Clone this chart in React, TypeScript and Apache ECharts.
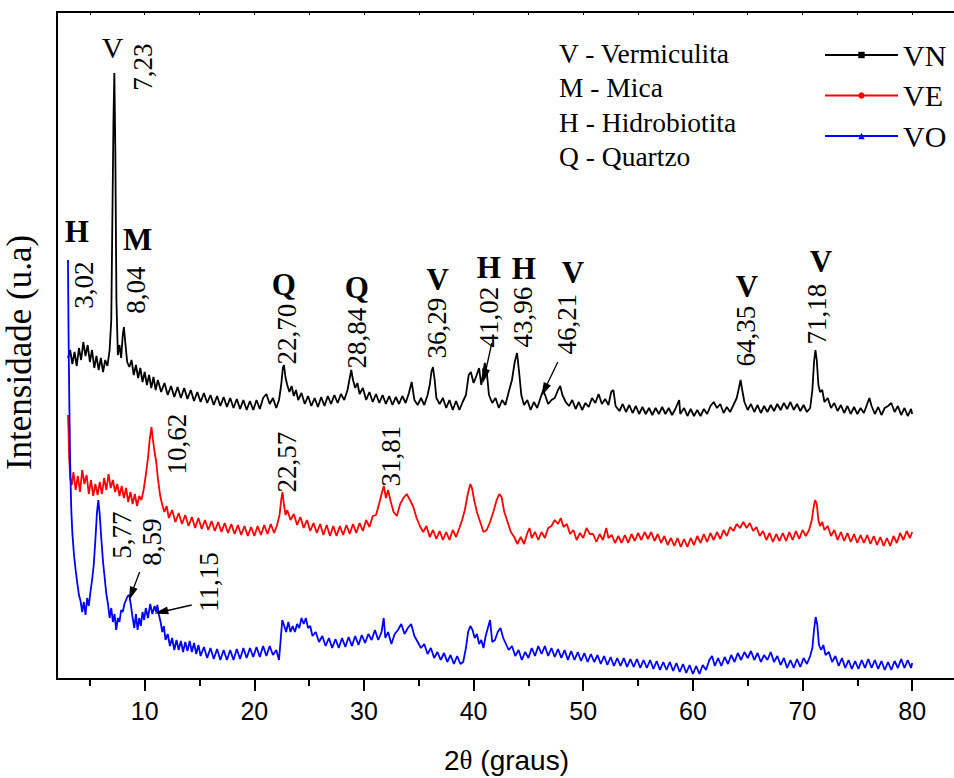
import React, { useEffect, useRef } from "react";
import * as echarts from "echarts";

// 2θ (degrees) , intensity (a.u., offset traces)
const vnData: [number, number][] = [
  [3.0, 321], [3.2, 329], [3.4, 315], [3.6, 327], [3.8, 313], [4.0, 331], [4.2, 319], [4.4, 337], [4.6, 323], [4.8, 334],
  [5.0, 317], [5.2, 329], [5.4, 311], [5.6, 323], [5.8, 309], [6.0, 321], [6.2, 307], [6.4, 319], [6.6, 313], [6.8, 329],
  [6.95, 359], [7.05, 459], [7.15, 559], [7.23, 606], [7.32, 529], [7.42, 379], [7.55, 324], [7.7, 334], [7.85, 321], [8.0, 344],
  [8.1, 352], [8.25, 334], [8.4, 317], [8.6, 312], [8.8, 319], [9.0, 304], [9.2, 314], [9.4, 301], [9.6, 311], [9.8, 297],
  [10.0, 307], [10.2, 294], [10.4, 304], [10.6, 291], [10.8, 302], [11.0, 289], [11.2, 299], [11.5, 287], [11.8, 296], [12.1, 284],
  [12.4, 293], [12.7, 282], [13.0, 292], [13.3, 281], [13.6, 291], [13.9, 280], [14.2, 289], [14.5, 278], [14.8, 287], [15.1, 277],
  [15.4, 286], [15.7, 276], [16.0, 284], [16.3, 274], [16.6, 283], [16.9, 273], [17.2, 282], [17.5, 272], [17.8, 281], [18.1, 271],
  [18.4, 280], [18.7, 270], [19.0, 279], [19.3, 269], [19.6, 278], [19.9, 269], [20.2, 279], [20.5, 270], [20.8, 281], [21.1, 285],
  [21.4, 275], [21.7, 281], [22.0, 271], [22.25, 279], [22.45, 294], [22.6, 311], [22.7, 314], [22.85, 301], [23.0, 294], [23.2, 287],
  [23.4, 293], [23.6, 283], [23.8, 289], [24.0, 279], [24.3, 286], [24.6, 275], [24.9, 283], [25.2, 273], [25.5, 281], [25.8, 272],
  [26.1, 282], [26.4, 273], [26.7, 283], [27.0, 275], [27.3, 284], [27.6, 276], [27.9, 285], [28.2, 279], [28.5, 289], [28.7, 301],
  [28.84, 309], [29.0, 299], [29.2, 291], [29.4, 296], [29.6, 285], [29.9, 291], [30.2, 279], [30.5, 287], [30.8, 277], [31.1, 285],
  [31.4, 276], [31.7, 284], [32.0, 275], [32.3, 283], [32.6, 274], [32.9, 282], [33.2, 275], [33.5, 283], [33.8, 276], [34.1, 286],
  [34.35, 297], [34.6, 279], [34.9, 274], [35.2, 281], [35.5, 274], [35.8, 284], [36.0, 294], [36.15, 307], [36.29, 312], [36.45, 299],
  [36.6, 281], [36.9, 275], [37.2, 281], [37.5, 271], [37.8, 279], [38.1, 269], [38.4, 278], [38.7, 269], [39.0, 277], [39.3, 284],
  [39.55, 304], [39.75, 307], [40.0, 296], [40.25, 303], [40.5, 311], [40.7, 294], [40.85, 304], [41.02, 316], [41.2, 307], [41.4, 284],
  [41.7, 276], [42.0, 281], [42.3, 271], [42.6, 279], [42.9, 274], [43.2, 287], [43.5, 299], [43.75, 317], [43.96, 326], [44.15, 307],
  [44.35, 284], [44.6, 274], [44.9, 279], [45.2, 269], [45.5, 277], [45.8, 271], [46.1, 281], [46.35, 289], [46.55, 283], [46.8, 275],
  [47.1, 279], [47.4, 281], [47.7, 289], [47.9, 293], [48.1, 284], [48.4, 277], [48.7, 273], [49.0, 279], [49.3, 270], [49.6, 277],
  [49.9, 269], [50.2, 276], [50.5, 272], [50.8, 281], [51.1, 276], [51.4, 285], [51.7, 275], [52.0, 280], [52.3, 274], [52.55, 287],
  [52.75, 289], [52.95, 273], [53.3, 268], [53.6, 275], [53.9, 267], [54.2, 274], [54.5, 266], [54.8, 273], [55.1, 265], [55.4, 272],
  [55.7, 265], [56.0, 271], [56.3, 264], [56.6, 271], [56.9, 265], [57.2, 272], [57.5, 265], [57.8, 271], [58.1, 264], [58.4, 270],
  [58.75, 279], [58.85, 265], [59.2, 271], [59.5, 263], [59.8, 270], [60.1, 263], [60.4, 269], [60.7, 263], [61.0, 270], [61.3, 265],
  [61.6, 273], [61.9, 277], [62.2, 271], [62.5, 275], [62.8, 266], [63.1, 272], [63.4, 267], [63.7, 274], [64.0, 281], [64.2, 291],
  [64.35, 299], [64.5, 289], [64.7, 277], [65.0, 269], [65.3, 275], [65.6, 267], [65.9, 274], [66.2, 266], [66.5, 273], [66.8, 267],
  [67.1, 274], [67.4, 268], [67.7, 275], [68.0, 269], [68.3, 276], [68.6, 270], [68.9, 277], [69.2, 269], [69.5, 275], [69.8, 268],
  [70.1, 274], [70.4, 267], [70.7, 271], [70.9, 289], [71.05, 317], [71.18, 329], [71.3, 319], [71.45, 294], [71.6, 287], [71.8, 289],
  [72.0, 277], [72.3, 281], [72.6, 271], [72.9, 276], [73.2, 268], [73.5, 274], [73.8, 266], [74.1, 273], [74.4, 265], [74.7, 272],
  [75.0, 265], [75.3, 271], [75.6, 266], [75.9, 275], [76.1, 281], [76.3, 273], [76.6, 265], [76.9, 272], [77.2, 264], [77.5, 271],
  [77.8, 273], [78.1, 276], [78.4, 267], [78.7, 273], [79.0, 264], [79.3, 271], [79.6, 263], [79.9, 270], [80.0, 265],
];

const veData: [number, number][] = [
  [3.0, 264], [3.05, 249], [3.1, 224], [3.2, 201], [3.35, 194], [3.5, 207], [3.7, 189], [3.9, 203], [4.1, 187], [4.3, 209],
  [4.5, 195], [4.7, 204], [4.9, 185], [5.1, 199], [5.3, 183], [5.5, 195], [5.7, 184], [5.9, 197], [6.1, 185], [6.3, 201],
  [6.5, 189], [6.7, 205], [6.9, 191], [7.1, 199], [7.3, 187], [7.5, 195], [7.7, 183], [7.9, 193], [8.1, 181], [8.3, 191],
  [8.5, 177], [8.7, 187], [8.9, 175], [9.1, 185], [9.3, 173], [9.5, 183], [9.7, 179], [9.9, 189], [10.1, 204], [10.3, 221],
  [10.45, 239], [10.62, 252], [10.75, 239], [10.9, 227], [11.05, 217], [11.2, 201], [11.4, 184], [11.6, 174], [11.8, 167], [12.0, 173],
  [12.2, 161], [12.5, 169], [12.8, 157], [13.1, 166], [13.4, 155], [13.7, 164], [14.0, 153], [14.3, 162], [14.6, 151], [14.9, 161],
  [15.2, 150], [15.5, 159], [15.8, 149], [16.1, 158], [16.4, 148], [16.7, 157], [17.0, 147], [17.3, 156], [17.6, 146], [17.9, 155],
  [18.2, 145], [18.5, 154], [18.8, 144], [19.1, 153], [19.4, 143], [19.7, 152], [20.0, 143], [20.3, 153], [20.6, 144], [20.9, 154],
  [21.2, 145], [21.5, 155], [21.8, 146], [22.05, 153], [22.3, 164], [22.45, 179], [22.57, 187], [22.7, 174], [22.85, 164], [23.0, 169],
  [23.3, 159], [23.6, 165], [23.9, 154], [24.2, 162], [24.5, 151], [24.8, 159], [25.1, 148], [25.4, 156], [25.7, 146], [26.0, 155],
  [26.3, 144], [26.6, 154], [26.9, 143], [27.2, 153], [27.5, 143], [27.8, 153], [28.1, 144], [28.4, 154], [28.7, 145], [29.0, 155],
  [29.3, 146], [29.6, 156], [29.9, 148], [30.2, 159], [30.5, 152], [30.8, 163], [31.1, 164], [31.4, 176], [31.65, 187], [31.81, 193],
  [32.0, 181], [32.2, 189], [32.45, 177], [32.7, 167], [33.0, 163], [33.3, 175], [33.6, 181], [33.9, 185], [34.2, 179], [34.5, 172],
  [34.8, 161], [35.1, 153], [35.4, 147], [35.7, 153], [36.0, 142], [36.3, 149], [36.6, 140], [36.9, 148], [37.2, 139], [37.5, 147],
  [37.8, 139], [38.1, 149], [38.4, 142], [38.7, 151], [38.95, 159], [39.2, 169], [39.45, 184], [39.7, 195], [39.85, 191], [40.05, 179],
  [40.3, 167], [40.6, 157], [40.9, 147], [41.2, 149], [41.5, 157], [41.8, 167], [42.1, 179], [42.35, 185], [42.55, 182], [42.8, 167],
  [43.1, 157], [43.4, 147], [43.7, 142], [44.0, 135], [44.3, 142], [44.6, 135], [44.9, 146], [45.1, 151], [45.3, 141], [45.6, 147],
  [45.9, 139], [46.2, 147], [46.5, 141], [46.8, 151], [47.1, 153], [47.4, 159], [47.7, 155], [47.95, 161], [48.2, 152], [48.5, 155],
  [48.8, 145], [49.1, 149], [49.4, 139], [49.7, 146], [50.0, 141], [50.3, 151], [50.6, 145], [50.9, 145], [51.2, 137], [51.5, 145],
  [51.8, 139], [52.1, 151], [52.3, 141], [52.6, 144], [52.9, 136], [53.2, 143], [53.5, 136], [53.8, 144], [54.1, 136], [54.4, 145],
  [54.7, 138], [55.0, 146], [55.3, 139], [55.6, 147], [55.9, 140], [56.2, 147], [56.5, 138], [56.8, 145], [57.1, 136], [57.4, 143],
  [57.7, 134], [58.0, 141], [58.3, 133], [58.6, 141], [58.9, 132], [59.2, 140], [59.5, 132], [59.8, 141], [60.1, 134], [60.4, 143],
  [60.7, 136], [61.0, 145], [61.3, 137], [61.6, 146], [61.9, 139], [62.2, 147], [62.5, 140], [62.8, 149], [63.1, 143], [63.4, 152],
  [63.7, 148], [64.0, 155], [64.3, 151], [64.6, 157], [64.9, 151], [65.2, 156], [65.5, 148], [65.8, 152], [66.1, 143], [66.4, 148],
  [66.7, 139], [67.0, 146], [67.3, 137], [67.6, 145], [67.9, 138], [68.2, 146], [68.5, 138], [68.8, 147], [69.1, 139], [69.4, 148],
  [69.7, 140], [70.0, 149], [70.3, 143], [70.6, 149], [70.85, 159], [71.0, 171], [71.15, 179], [71.3, 175], [71.45, 159], [71.6, 153],
  [71.8, 157], [72.0, 149], [72.3, 153], [72.6, 143], [72.9, 149], [73.2, 139], [73.5, 147], [73.8, 138], [74.1, 146], [74.4, 137],
  [74.7, 145], [75.0, 136], [75.3, 144], [75.6, 136], [75.9, 144], [76.2, 135], [76.5, 143], [76.8, 134], [77.1, 142], [77.4, 133],
  [77.7, 141], [78.0, 133], [78.3, 143], [78.6, 136], [78.9, 146], [79.2, 139], [79.5, 148], [79.8, 141], [80.0, 147],
];

const voData: [number, number][] = [
  [3.0, 419], [3.05, 349], [3.12, 279], [3.2, 216], [3.3, 170], [3.4, 146], [3.55, 124], [3.7, 109], [3.85, 96], [4.0, 84],
  [4.15, 78], [4.3, 67], [4.45, 77], [4.6, 64], [4.75, 81], [4.9, 73], [5.05, 87], [5.2, 99], [5.35, 114], [5.5, 139],
  [5.65, 167], [5.77, 179], [5.9, 164], [6.05, 139], [6.2, 117], [6.35, 101], [6.5, 85], [6.65, 75], [6.8, 61], [6.95, 71],
  [7.1, 57], [7.25, 65], [7.4, 49], [7.55, 61], [7.7, 57], [7.85, 69], [8.0, 67], [8.15, 75], [8.3, 79], [8.45, 83],
  [8.59, 84], [8.75, 73], [8.9, 61], [9.05, 51], [9.2, 65], [9.35, 49], [9.5, 61], [9.65, 53], [9.8, 67], [9.95, 59],
  [10.1, 71], [10.3, 61], [10.5, 75], [10.7, 65], [10.9, 73], [11.05, 67], [11.15, 74], [11.3, 64], [11.45, 57], [11.6, 47],
  [11.75, 53], [11.9, 39], [12.1, 45], [12.3, 33], [12.5, 41], [12.7, 29], [12.9, 39], [13.1, 29], [13.3, 38], [13.5, 27],
  [13.7, 37], [13.9, 28], [14.1, 38], [14.3, 27], [14.5, 36], [14.7, 25], [14.9, 34], [15.1, 23], [15.4, 32], [15.7, 21],
  [16.0, 31], [16.3, 20], [16.6, 30], [16.9, 19], [17.2, 29], [17.5, 19], [17.8, 29], [18.1, 19], [18.4, 30], [18.7, 20],
  [19.0, 31], [19.3, 21], [19.6, 31], [19.9, 22], [20.2, 32], [20.5, 22], [20.8, 33], [21.1, 23], [21.4, 33], [21.7, 24],
  [22.0, 29], [22.25, 19], [22.4, 39], [22.55, 59], [22.7, 54], [22.9, 47], [23.1, 57], [23.3, 47], [23.5, 53], [23.7, 47],
  [23.9, 55], [24.1, 51], [24.3, 61], [24.5, 55], [24.7, 61], [24.9, 51], [25.1, 53], [25.3, 43], [25.6, 47], [25.9, 37],
  [26.2, 43], [26.5, 33], [26.8, 41], [27.1, 31], [27.4, 40], [27.7, 31], [28.0, 41], [28.3, 32], [28.6, 42], [28.9, 33],
  [29.2, 43], [29.5, 34], [29.8, 44], [30.1, 36], [30.4, 45], [30.7, 39], [31.0, 49], [31.3, 39], [31.6, 47], [31.8, 61],
  [31.95, 41], [32.2, 47], [32.5, 35], [32.8, 45], [33.1, 49], [33.4, 55], [33.7, 45], [34.0, 51], [34.3, 55], [34.6, 43],
  [34.9, 37], [35.2, 31], [35.5, 35], [35.8, 25], [36.1, 31], [36.4, 21], [36.7, 27], [37.0, 19], [37.3, 26], [37.6, 17],
  [37.9, 24], [38.2, 15], [38.5, 23], [38.8, 15], [39.05, 17], [39.3, 31], [39.5, 47], [39.7, 53], [39.9, 49], [40.1, 41],
  [40.3, 45], [40.5, 35], [40.7, 39], [40.9, 31], [41.1, 43], [41.3, 51], [41.5, 59], [41.7, 37], [41.95, 39], [42.2, 47],
  [42.45, 51], [42.7, 41], [42.95, 35], [43.2, 29], [43.5, 33], [43.8, 23], [44.1, 29], [44.4, 19], [44.7, 27], [45.0, 21],
  [45.3, 31], [45.6, 23], [45.9, 33], [46.2, 25], [46.5, 33], [46.8, 23], [47.1, 31], [47.4, 22], [47.7, 30], [48.0, 21],
  [48.3, 29], [48.6, 19], [48.9, 28], [49.2, 19], [49.5, 27], [49.8, 18], [50.1, 26], [50.4, 17], [50.7, 25], [51.0, 17],
  [51.3, 24], [51.6, 15], [51.9, 23], [52.2, 14], [52.5, 22], [52.8, 13], [53.1, 21], [53.4, 13], [53.7, 21], [54.0, 12],
  [54.3, 20], [54.6, 12], [54.9, 20], [55.2, 11], [55.5, 19], [55.8, 11], [56.1, 19], [56.4, 10], [56.7, 18], [57.0, 9],
  [57.3, 17], [57.6, 9], [57.9, 17], [58.2, 8], [58.5, 16], [58.8, 7], [59.1, 15], [59.4, 6], [59.7, 14], [60.0, 5],
  [60.3, 13], [60.6, 5], [60.9, 14], [61.2, 9], [61.5, 19], [61.75, 23], [62.0, 13], [62.3, 21], [62.6, 13], [62.9, 22],
  [63.2, 15], [63.5, 24], [63.8, 17], [64.1, 26], [64.4, 19], [64.7, 27], [65.0, 21], [65.3, 28], [65.6, 19], [65.9, 26],
  [66.2, 17], [66.5, 24], [66.8, 19], [67.1, 27], [67.4, 17], [67.7, 23], [68.0, 14], [68.3, 21], [68.6, 11], [68.9, 19],
  [69.2, 11], [69.5, 20], [69.8, 12], [70.1, 21], [70.4, 15], [70.7, 23], [70.9, 31], [71.05, 49], [71.2, 62], [71.35, 54],
  [71.5, 34], [71.7, 29], [71.9, 34], [72.1, 24], [72.4, 27], [72.7, 17], [73.0, 23], [73.3, 13], [73.6, 21], [73.9, 11],
  [74.2, 19], [74.5, 10], [74.8, 18], [75.1, 10], [75.4, 19], [75.7, 11], [76.0, 20], [76.3, 11], [76.6, 19], [76.9, 10],
  [77.2, 18], [77.5, 9], [77.8, 17], [78.1, 9], [78.4, 18], [78.7, 11], [79.0, 20], [79.3, 11], [79.6, 19], [79.9, 11], [80.0, 16],
];

const seriesNames = ["VN", "VE", "VO"];
const seriesColors = ["#000000", "#ff0000", "#0000ff"];
const seriesSymbols = ["rect", "circle", "triangle"];

const xMajorTicks = [10, 20, 30, 40, 50, 60, 70, 80];
const xMinorTicks = [5, 15, 25, 35, 45, 55, 65, 75];
const xTopTicks = [5, 10, 15, 20, 25, 30, 35, 40, 45, 50, 55, 60, 65, 70, 75, 80];

const phaseKey = ["V - Vermiculita", "M - Mica", "H - Hidrobiotita", "Q - Quartzo"];

// phase letters above peaks: [letter, 2θ, intensity]
const phaseLetters: [string, number, number][] = [
  ["H", 3.8, 448], ["M", 9.36, 440], ["Q", 22.68, 395], ["Q", 29.34, 392], ["V", 36.73, 400],
  ["H", 41.39, 412], ["H", 44.58, 411], ["V", 49.05, 407], ["V", 64.93, 393], ["V", 71.68, 418],
];
// peak position labels: [text, 2θ, intensity]
const peakLabels: [string, number, number][] = [
  ["7,23", 9.81, 612], ["3,02", 4.43, 394], ["8,04", 9.18, 389], ["22,70", 22.95, 345], ["28,84", 29.34, 341],
  ["36,29", 36.64, 351], ["41,02", 41.39, 362], ["43,96", 44.49, 362], ["46,21", 48.5, 355], ["64,35", 64.84, 343],
  ["71,18", 71.31, 365], ["10,62", 12.92, 235], ["22,57", 22.95, 217], ["31,81", 32.45, 223], ["5,77", 7.9, 144],
  ["8,59", 10.64, 137], ["11,15", 15.84, 97],
];
// arrows: [from 2θ, from I, to 2θ, to I]
const arrows: [number, number, number, number][] = [
  [41.66, 336, 41.0, 303], [47.68, 317, 46.45, 289], [9.54, 107, 8.78, 85], [14.29, 74, 11.5, 67],
];

const SERIF = "Liberation Serif";
const SANS = "Liberation Sans";

export default function App() {
  const ref = useRef<HTMLDivElement>(null);
  useEffect(() => {
    if (!ref.current) return;
    const chart = echarts.init(ref.current, undefined, { renderer: "svg" });
    const datasets = [vnData, veData, voData];
    chart.setOption({
      animation: false,
      backgroundColor: "#ffffff",
      grid: { left: 57, right: -2, top: 12, bottom: 99, containLabel: false, outerBoundsMode: "none" },
      legend: {
        orient: "vertical",
        left: 819,
        top: 35,
        itemWidth: 73,
        itemHeight: 8,
        itemGap: 10.5,
        data: seriesNames,
        textStyle: { fontFamily: SERIF, fontSize: 30, color: "#000" },
      },
      xAxis: [
        {
          type: "value", min: 2, max: 84, position: "bottom",
          splitLine: { show: false },
          axisLine: { show: true, onZero: false, lineStyle: { color: "#000", width: 2 } },
          axisTick: { show: true, customValues: xMajorTicks, length: 12, lineStyle: { color: "#000", width: 2 } },
          axisLabel: { customValues: xMajorTicks, margin: 19, fontFamily: SANS, fontSize: 25, color: "#000" },
          name: "2{t|θ} (graus)",
          nameLocation: "middle",
          nameGap: 67,
          nameTextStyle: { fontFamily: SANS, fontSize: 28, color: "#000", rich: { t: { fontFamily: SERIF, fontSize: 27, color: "#000" } } },
        },
        {
          type: "value", min: 2, max: 84, position: "bottom",
          splitLine: { show: false },
          axisLine: { show: false },
          axisTick: { show: true, customValues: xMinorTicks, length: 7, lineStyle: { color: "#000", width: 2 } },
          axisLabel: { show: false },
        },
        {
          type: "value", min: 2, max: 84, position: "top",
          splitLine: { show: false },
          axisLine: { show: true, onZero: false, lineStyle: { color: "#000", width: 2 } },
          axisTick: { show: true, inside: true, customValues: xTopTicks, length: 3, lineStyle: { color: "#000", width: 1 } },
          axisLabel: { show: false },
        },
      ],
      yAxis: {
        type: "value", min: 0, max: 667,
        splitLine: { show: false },
        axisLine: { show: true, onZero: false, lineStyle: { color: "#000", width: 2 } },
        axisTick: { show: false },
        axisLabel: { show: false },
        name: "Intensidade (u.a)",
        nameLocation: "middle",
        nameRotate: 90,
        nameGap: 20,
        nameTextStyle: { fontFamily: SERIF, fontSize: 35, color: "#000", padding: [0, 14, 0, 0] },
      },
      series: datasets.map((d, i) => ({
        name: seriesNames[i],
        type: "line",
        data: d,
        xAxisIndex: 0,
        yAxisIndex: 0,
        showSymbol: false,
        symbol: seriesSymbols[i],
        symbolSize: 7,
        color: seriesColors[i],
        itemStyle: { color: seriesColors[i] },
        lineStyle: { color: seriesColors[i], width: 1.8 },
        silent: true,
        markLine: i === 0 ? {
          silent: true,
          symbol: ["none", "triangle"],
          symbolSize: [0, 12],
          label: { show: false },
          lineStyle: { color: "#000", width: 1.3, type: "solid" },
          data: arrows.map((a) => [{ coord: [a[0], a[1]] }, { coord: [a[2], a[3]], symbolSize: [8, 14] }]),
        } : undefined,
      })),
    });

    const px = (x: number, y: number) => chart.convertToPixel({ xAxisIndex: 0, yAxisIndex: 0 }, [x, y]) as number[];
    const graphics: any[] = [];
    {
      const p = px(7.08, 632);
      graphics.push({ type: "text", x: p[0], y: p[1], style: { text: "V", fontFamily: SERIF, fontSize: 30, fill: "#000", align: "center", verticalAlign: "middle" } });
    }
    phaseLetters.forEach(([t, x, y]) => {
      const p = px(x, y);
      graphics.push({ type: "text", x: p[0], y: p[1], style: { text: t, fontFamily: SERIF, fontWeight: "bold", fontSize: 31, fill: "#000", align: "center", verticalAlign: "middle" } });
    });
    peakLabels.forEach(([t, x, y]) => {
      const p = px(x, y);
      graphics.push({ type: "text", x: p[0], y: p[1], rotation: Math.PI / 2, style: { text: t, fontFamily: SERIF, fontSize: 27, fill: "#000", align: "center", verticalAlign: "middle" } });
    });
    phaseKey.forEach((t, i) => {
      graphics.push({ type: "text", left: 559, top: 39 + i * 34.5, style: { text: t, fontFamily: SERIF, fontSize: 27.5, fill: "#000" } });
    });
    chart.setOption({ graphic: graphics });

    return () => chart.dispose();
  }, []);
  return <div ref={ref} style={{ position: "absolute", left: 0, top: 0, width: 954, height: 778, background: "#fff" }} />;
}
